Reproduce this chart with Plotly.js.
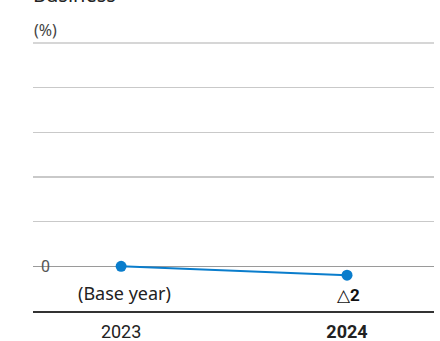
<!DOCTYPE html>
<html>
<head>
<meta charset="utf-8">
<script src="https://cdn.plot.ly/plotly-3.0.1.min.js"></script>
<style>html,body{margin:0;padding:0;background:#fff;}#chart{width:440px;height:341px;}</style>
</head>
<body>
<div id="chart"></div>
<script>
const years = ["2023", "2024"];
const yearLabels = ["2023", "<b>2024</b>"];
const values = [0, -2];
const pointLabels = ["(Base year)", "△<b>2</b>"];
const chartTitle = "Business";
const unitLabel = "(%)";

const blue = "#0a7dcc";

const trace = {
  x: years,
  y: values,
  type: "scatter",
  mode: "lines+markers",
  line: {color: blue, width: 2},
  marker: {color: blue, size: 11},
  hoverinfo: "skip",
  cliponaxis: false
};

const labelStyles = [
  {yshift: -27, xshift: 3, font: {family: "Noto Sans, Open Sans, sans-serif", size: 18, color: "#222"}},
  {yshift: -20, xshift: 1, font: {family: "Roboto, sans-serif", size: 17, color: "#111"}}
];

const annotations = values.map((v, i) => Object.assign({
  xref: "x", yref: "y", x: i, y: v, text: pointLabels[i], showarrow: false,
  xanchor: "center", yanchor: "middle"
}, labelStyles[i]));

annotations.push(
  {xref: "paper", yref: "y", x: 0.03, y: 0, text: "0", showarrow: false,
   xanchor: "center", yanchor: "middle",
   font: {family: "Roboto, sans-serif", size: 16, color: "#555"}},
  {xref: "paper", yref: "paper", x: 0.0, y: 1, text: unitLabel, showarrow: false,
   xanchor: "left", yanchor: "bottom", xshift: -1, yshift: 0,
   font: {family: "Noto Sans, sans-serif", size: 16, color: "#444"}},
  {xref: "paper", yref: "paper", x: 0.0, y: 1, text: chartTitle, showarrow: false,
   xanchor: "left", yanchor: "bottom", xshift: -2, yshift: 33,
   font: {family: "Noto Sans, sans-serif", size: 20, color: "#222"}}
);

const layout = {
  width: 440, height: 341,
  margin: {l: 33, r: 6, t: 43, b: 30, pad: 0},
  paper_bgcolor: "#fff", plot_bgcolor: "#fff",
  showlegend: false,
  xaxis: {
    type: "category",
    range: [-0.39, 1.385],
    tickvals: years,
    ticktext: yearLabels,
    showgrid: false, zeroline: false,
    showline: true, linecolor: "#333", linewidth: 1.5,
    ticks: "", ticklabelstandoff: 4,
    tickfont: {family: "Roboto, sans-serif", size: 18, color: "#222"},
    fixedrange: true
  },
  yaxis: {
    range: [-10.02, 50.02],
    dtick: 10, tick0: 0,
    showgrid: true, gridcolor: "#c9c9c9", gridwidth: 1.5,
    zeroline: true, zerolinecolor: "#9a9a9a", zerolinewidth: 1,
    showticklabels: false, ticks: "",
    fixedrange: true
  },
  shapes: [
    {type: "line", xref: "paper", yref: "paper", x0: 0, x1: 1, y0: 1, y1: 1,
     line: {color: "#c9c9c9", width: 1.5}, layer: "below"}
  ],
  annotations: annotations
};

Plotly.newPlot("chart", [trace], layout, {displayModeBar: false, staticPlot: true});
</script>
</body>
</html>
